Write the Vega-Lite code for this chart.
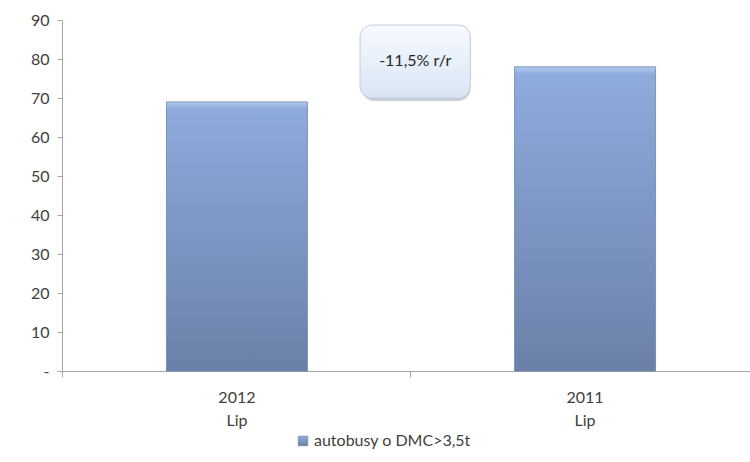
{
  "$schema": "https://vega.github.io/schema/vega-lite/v6.json",
  "autosize": {"type": "none"},
  "padding": {"left": 62, "top": 20, "right": 0, "bottom": 91},
  "width": 698,
  "height": 351,
  "background": "white",
  "config": {
    "view": {"stroke": null},
    "font": "Lato",
    "axis": {"labelFont": "Lato", "labelColor": "#404040", "labelFontSize": 16, "domainColor": "#a6a6a6", "tickColor": "#a6a6a6", "grid": false, "title": null, "labelOverlap": false},
    "axisY": {"values": [0, 10, 20, 30, 40, 50, 60, 70, 80, 90], "tickSize": 5, "labelPadding": 8, "labelExpr": "datum.value == 0 ? '-' : datum.label"}
  },
  "layer": [
    {
      "data": {"values": [
        {"okres": "2012 Lip", "wartosc": 69, "seria": "autobusy o DMC>3,5t"},
        {"okres": "2011 Lip", "wartosc": 78, "seria": "autobusy o DMC>3,5t"}
      ]},
      "mark": {"type": "bar", "strokeWidth": 0.8,
               "fill": {"gradient": "linear", "x1": 0, "y1": 0, "x2": 0, "y2": 1,
                        "stops": [{"offset": 0, "color": "#b3cbef"}, {"offset": 0.025, "color": "#8eabdd"}, {"offset": 1, "color": "#6a80a8"}]}},
      "encoding": {
        "x": {
          "field": "okres", "type": "nominal", "sort": null,
          "scale": {"paddingInner": 0.595, "paddingOuter": 0.3},
          "axis": {"labelAngle": 0, "bandPosition": -0.74, "tickSize": 6, "labelPadding": 12, "labelLineHeight": 23,
                   "labelExpr": "[slice(datum.label, 0, 4), slice(datum.label, 5)]"}
        },
        "y": {
          "field": "wartosc", "type": "quantitative",
          "scale": {"domain": [0, 90], "nice": false},
          "axis": {"values": [0, 10, 20, 30, 40, 50, 60, 70, 80, 90], "tickSize": 5, "labelPadding": 8,
                   "labelExpr": "datum.value == 0 ? '-' : datum.label"}
        },
        "stroke": {
          "field": "seria", "type": "nominal",
          "scale": {"range": ["#6d84ad"]},
          "legend": {"orient": "none", "legendX": 233, "legendY": 413, "title": null, "symbolType": "square",
                     "symbolSize": 90, "labelFontSize": 16, "labelColor": "#404040", "labelFont": "Lato",
                     "symbolFillColor": "#7f9bcf", "symbolStrokeWidth": 0.8, "labelOffset": 3}
        }
      }
    },
    {
      "data": {"values": [{"x0": 0.427, "x1": 0.585, "y0": 70, "y1": 88.7, "tekst": "-11,5% r/r", "xc": 0.506, "yc": 79.4}]},
      "layer": [
        {
          "mark": {"type": "rect", "cornerRadius": 12, "fill": "#8c95a3", "opacity": 0.45, "xOffset": 2, "yOffset": 3},
          "encoding": {
            "x": {"field": "x0", "type": "quantitative", "scale": {"domain": [0, 1]}, "axis": null},
            "x2": {"field": "x1"},
            "y": {"field": "y0", "type": "quantitative", "axis": {"values": [0, 10, 20, 30, 40, 50, 60, 70, 80, 90], "tickSize": 5, "labelPadding": 8, "labelExpr": "datum.value == 0 ? '-' : datum.label"}},
            "y2": {"field": "y1"}
          }
        },
        {
          "mark": {"type": "rect", "cornerRadius": 12, "stroke": "#c3ccd8", "strokeWidth": 1,
                   "fill": {"gradient": "linear", "x1": 0, "y1": 0, "x2": 0, "y2": 1,
                            "stops": [{"offset": 0, "color": "#f7faff"}, {"offset": 1, "color": "#d9e5f5"}]}},
          "encoding": {
            "x": {"field": "x0", "type": "quantitative", "scale": {"domain": [0, 1]}, "axis": null},
            "x2": {"field": "x1"},
            "y": {"field": "y0", "type": "quantitative", "axis": {"values": [0, 10, 20, 30, 40, 50, 60, 70, 80, 90], "tickSize": 5, "labelPadding": 8, "labelExpr": "datum.value == 0 ? '-' : datum.label"}},
            "y2": {"field": "y1"}
          }
        },
        {
          "mark": {"type": "text", "fontSize": 16, "color": "#262626", "font": "Lato"},
          "encoding": {
            "x": {"field": "xc", "type": "quantitative", "scale": {"domain": [0, 1]}, "axis": null},
            "y": {"field": "yc", "type": "quantitative", "axis": {"values": [0, 10, 20, 30, 40, 50, 60, 70, 80, 90], "tickSize": 5, "labelPadding": 8, "labelExpr": "datum.value == 0 ? '-' : datum.label"}},
            "text": {"field": "tekst"}
          }
        }
      ]
    }
  ],
  "resolve": {"scale": {"x": "independent"}}
}
